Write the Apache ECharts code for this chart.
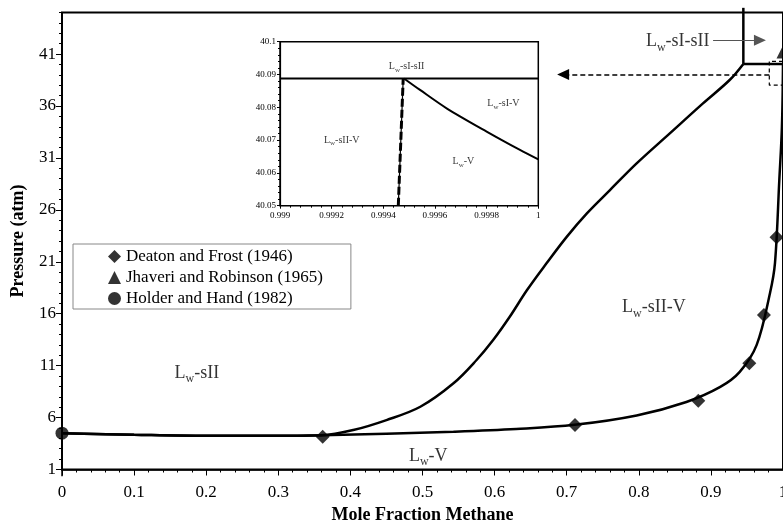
<!DOCTYPE html>
<html><head><meta charset="utf-8">
<script src="https://cdn.jsdelivr.net/npm/echarts@6/dist/echarts.min.js"></script>
<style>html,body{margin:0;padding:0;background:#fff}#c{width:783px;height:521px}</style>
</head><body><div id="c"></div>
<script>
// ---- main plot data ----
const yMajorTicks = [1, 6, 11, 16, 21, 26, 31, 36, 41];
const yMinorTicks = [2,3,4,5,7,8,9,10,12,13,14,15,17,18,19,20,22,23,24,25,27,28,29,30,32,33,34,35,37,38,39,40,42,43,44,45];

// Lw-V / Lw-sII-V boundary (lower curve)
const dewX = [0, 0.1, 0.2, 0.3, 0.36, 0.45, 0.543, 0.63, 0.711, 0.797, 0.866, 0.913, 0.94, 0.9635, 0.982, 0.9889, 0.9949, 0.9985, 1.0];
const dewP = [4.5, 4.35, 4.25, 4.25, 4.3, 4.45, 4.64, 4.9, 5.3, 6.2, 7.5, 8.95, 10.4, 13.0, 18.0, 20.9, 28.9, 34.0, 40.1];

// Lw-sII / Lw-sII-V boundary (upper curve)
const sIIX = [0, 0.1, 0.2, 0.3, 0.36, 0.404, 0.45, 0.497, 0.543, 0.575, 0.598, 0.621, 0.645, 0.672, 0.7, 0.728, 0.76, 0.797, 0.843, 0.889, 0.926, 0.945];
const sIIP = [4.5, 4.35, 4.25, 4.25, 4.3, 4.8, 5.76, 7.04, 9.3, 11.54, 13.46, 15.7, 18.28, 20.85, 23.4, 25.66, 27.9, 30.47, 33.36, 36.25, 38.5, 40.05];

// experimental points
const deatonX = [0.3616, 0.7115, 0.8825, 0.9533, 0.9736, 0.991];
const deatonP = [4.16, 5.28, 7.62, 11.22, 15.87, 23.35];
const jhaveriX = [1.0];
const jhaveriP = [41.2];
const holderX = [0];
const holderP = [4.5];

// schematic quadruple-point lines (top right, main plot)
const qVertX = [0.945, 0.945];
const qVertP = [40.05, 45.45];
const qHorX = [0.945, 1.0];
const qHorP = [40.05, 40.05];
const boxX = [1.0, 0.981, 0.981, 1.0];
const boxP = [40.3, 40.3, 38.0, 38.0];
const yAxisExtX = [0, 0];
const yAxisExtP = [1, 0.35];

// ---- inset data ----
const insHX = [0.999, 1.0];
const insHP = [40.0888, 40.0888];
const insVX = [0.999458, 0.999477];
const insVP = [40.05, 40.0888];
const insCX = [0.99948, 0.999542, 0.999645, 0.9998, 0.999929, 1.0];
const insCP = [40.0888, 40.0853, 40.0797, 40.0726, 40.067, 40.0641];

const zip = (a, b) => a.map((v, i) => [v, b[i]]);
const F = "'Liberation Serif', 'Times New Roman', serif";

function richLab(size) {
  const lh = Math.round(size * 1.35);
  return {
    b: { fontFamily: F, fontSize: size, color: '#000', lineHeight: lh, verticalAlign: 'middle' },
    s: { fontFamily: F, fontSize: Math.round(size * 0.65), color: '#000', lineHeight: lh, verticalAlign: 'bottom' }
  };
}
function labelSeries(items, size, xi, yi) {
  return {
    type: 'scatter', xAxisIndex: xi, yAxisIndex: yi, symbolSize: 0, silent: true, z: 5,
    data: items.map(it => ({ value: it[0], name: it[1] })),
    label: {
      show: true, position: 'inside',
      formatter: p => '{b|L}{s|w}{b|' + p.name + '}',
      rich: richLab(size)
    }
  };
}

const chart = echarts.init(document.getElementById('c'), null, { renderer: 'canvas' });
const lineBase = { type: 'line', showSymbol: false, symbol: 'none', silent: true };

const option = {
  animation: false,
  backgroundColor: '#fff',
  grid: [
    { left: 62, right: 0, top: 12.5, bottom: 51.5, show: true, borderColor: '#000', borderWidth: 2, outerBoundsMode: 'none', containLabel: false },
    { left: 280, top: 41.7, width: 258.3, height: 164, show: true, borderColor: '#000', borderWidth: 1.5, backgroundColor: '#fff', outerBoundsMode: 'none', containLabel: false }
  ],
  legend: {
    data: ['Deaton and Frost (1946)', 'Jhaveri and Robinson (1965)', 'Holder and Hand (1982)'],
    orient: 'vertical', left: 73, top: 244,
    padding: [4, 28, 2, 35], itemGap: 4, itemWidth: 13, itemHeight: 13,
    borderColor: '#888', borderWidth: 1, backgroundColor: '#fff',
    textStyle: { fontFamily: F, fontSize: 17, color: '#000' },
    selectedMode: false
  },
  xAxis: [
    {
      gridIndex: 0, type: 'value', min: 0, max: 1, interval: 0.1,
      name: 'Mole Fraction Methane', nameLocation: 'middle', nameGap: 32,
      nameTextStyle: { fontFamily: F, fontSize: 18, fontWeight: 'bold', color: '#000' },
      axisLine: { show: true, onZero: false, lineStyle: { color: '#000', width: 1.5 } },
      axisTick: { show: true, length: 6, lineStyle: { color: '#000' } },
      minorTick: { show: true, splitNumber: 5, length: 3, lineStyle: { color: '#000' } },
      axisLabel: { fontFamily: F, fontSize: 17, color: '#000', margin: 15 },
      splitLine: { show: false }
    },
    {
      gridIndex: 1, type: 'value', min: 0.999, max: 1, interval: 0.0002,
      axisLine: { show: true, onZero: false, lineStyle: { color: '#000', width: 1.2 } },
      axisTick: { show: true, length: 3, lineStyle: { color: '#000' } },
      minorTick: { show: true, splitNumber: 5, length: 2, lineStyle: { color: '#000' } },
      axisLabel: { fontFamily: F, fontSize: 9, color: '#000', margin: 5 },
      splitLine: { show: false }
    }
  ],
  yAxis: [
    {
      gridIndex: 0, type: 'value', min: 1, max: 45,
      name: 'Pressure (atm)', nameLocation: 'middle', nameGap: 35, nameRotate: 90,
      nameTextStyle: { fontFamily: F, fontSize: 18, fontWeight: 'bold', color: '#000' },
      axisLine: { show: true, onZero: false, lineStyle: { color: '#000', width: 1.5 } },
      axisTick: { show: true, length: 6, customValues: yMajorTicks, lineStyle: { color: '#000' } },
      axisLabel: { fontFamily: F, fontSize: 17, color: '#000', margin: 6, customValues: yMajorTicks },
      splitLine: { show: false }
    },
    {
      gridIndex: 0, type: 'value', min: 1, max: 45, position: 'left',
      axisLine: { show: false },
      axisTick: { show: true, length: 3, customValues: yMinorTicks, lineStyle: { color: '#000' } },
      axisLabel: { show: false },
      splitLine: { show: false }
    },
    {
      gridIndex: 1, type: 'value', min: 40.05, max: 40.1, interval: 0.01,
      axisLine: { show: true, onZero: false, lineStyle: { color: '#000', width: 1.2 } },
      axisTick: { show: true, length: 3, lineStyle: { color: '#000' } },
      minorTick: { show: true, splitNumber: 5, length: 2, lineStyle: { color: '#000' } },
      axisLabel: { fontFamily: F, fontSize: 9, color: '#000', margin: 4 },
      splitLine: { show: false }
    }
  ],
  series: [
    Object.assign({}, lineBase, { xAxisIndex: 0, yAxisIndex: 0, data: zip(dewX, dewP), smooth: 0.35, lineStyle: { color: '#000', width: 2.5 } }),
    Object.assign({}, lineBase, { xAxisIndex: 0, yAxisIndex: 0, data: zip(sIIX, sIIP), smooth: 0.35, lineStyle: { color: '#000', width: 2.5 } }),
    Object.assign({}, lineBase, { xAxisIndex: 0, yAxisIndex: 0, data: zip(qVertX, qVertP), clip: false, lineStyle: { color: '#000', width: 2.5 } }),
    Object.assign({}, lineBase, { xAxisIndex: 0, yAxisIndex: 0, data: zip(qHorX, qHorP), clip: false, lineStyle: { color: '#000', width: 2.5 } }),
    Object.assign({}, lineBase, { xAxisIndex: 0, yAxisIndex: 0, data: zip(yAxisExtX, yAxisExtP), clip: false, lineStyle: { color: '#000', width: 1.5 } }),
    Object.assign({}, lineBase, {
      xAxisIndex: 0, yAxisIndex: 0, data: zip(boxX, boxP), clip: false,
      lineStyle: { color: '#000', width: 1.2, type: [4, 3] },
      markLine: {
        silent: true, symbol: ['none', 'triangle'], symbolSize: [11, 12], label: { show: false },
        lineStyle: { color: '#000', width: 1.5, type: [5, 3] },
        data: [[{ coord: [0.981, 39.04] }, { coord: [0.695, 39.04] }]]
      }
    }),
    Object.assign({}, lineBase, {
      xAxisIndex: 0, yAxisIndex: 0, data: [], clip: false,
      markLine: {
        silent: true, symbol: ['none', 'triangle'], symbolSize: [11, 12], label: { show: false },
        lineStyle: { color: '#555', width: 1, type: 'solid' },
        data: [[{ coord: [0.903, 42.34] }, { coord: [0.968, 42.34] }]]
      }
    }),
    { name: 'Deaton and Frost (1946)', type: 'scatter', xAxisIndex: 0, yAxisIndex: 0, symbol: 'diamond', symbolSize: 14, itemStyle: { color: '#000' }, data: zip(deatonX, deatonP), z: 4 },
    { name: 'Jhaveri and Robinson (1965)', type: 'scatter', xAxisIndex: 0, yAxisIndex: 0, symbol: 'triangle', symbolSize: 13, clip: false, itemStyle: { color: '#000' }, data: zip(jhaveriX, jhaveriP), z: 4 },
    { name: 'Holder and Hand (1982)', type: 'scatter', xAxisIndex: 0, yAxisIndex: 0, symbol: 'circle', symbolSize: 13, clip: false, itemStyle: { color: '#000' }, data: zip(holderX, holderP), z: 4 },
    labelSeries([[[0.187, 10.3], '-sII'], [[0.821, 16.6], '-sII-V'], [[0.508, 2.3], '-V'], [[0.854, 42.2], '-sI-sII']], 18, 0, 0),
    // inset
    Object.assign({}, lineBase, { xAxisIndex: 1, yAxisIndex: 2, data: zip(insHX, insHP), lineStyle: { color: '#000', width: 2 } }),
    Object.assign({}, lineBase, { xAxisIndex: 1, yAxisIndex: 2, data: zip(insVX, insVP), lineStyle: { color: '#000', width: 1.2 } }),
    Object.assign({}, lineBase, { xAxisIndex: 1, yAxisIndex: 2, data: zip(insVX, insVP), lineStyle: { color: '#000', width: 3, type: [8, 3] } }),
    Object.assign({}, lineBase, { xAxisIndex: 1, yAxisIndex: 2, data: zip(insCX, insCP), smooth: 0.3, lineStyle: { color: '#000', width: 2 } }),
    labelSeries([[[0.99949, 40.0924], '-sI-sII'], [[0.999865, 40.0812], '-sI-V'], [[0.999239, 40.070], '-sII-V'], [[0.99971, 40.0634], '-V']], 10, 1, 2)
  ]
};
chart.setOption(option);
</script>
</body></html>
